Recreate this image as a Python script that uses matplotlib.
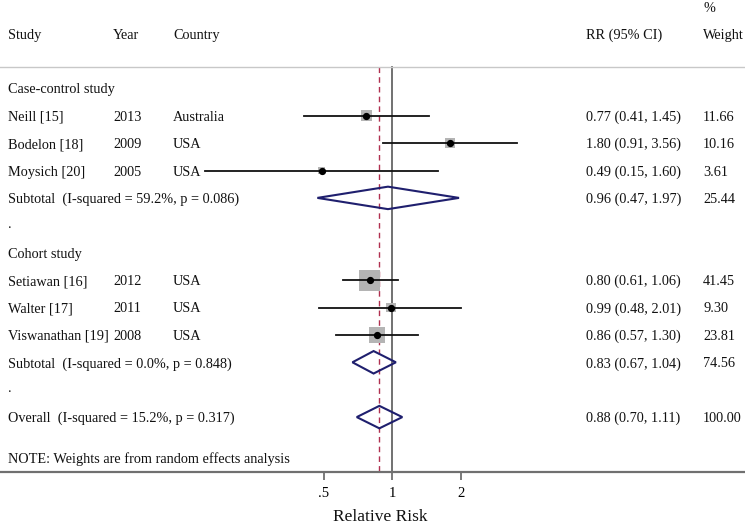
import numpy as np
import matplotlib
matplotlib.use("Agg")
import matplotlib.pyplot as plt
from matplotlib.patches import Polygon
import matplotlib.transforms as mtransforms

# ---------------- data ----------------
groups = ["Case-control study", "Cohort study"]
studies = [["Neill [15]", "Bodelon [18]", "Moysich [20]"],
           ["Setiawan [16]", "Walter [17]", "Viswanathan [19]"]]
years = [["2013", "2009", "2005"], ["2012", "2011", "2008"]]
countries = [["Australia", "USA", "USA"], ["USA", "USA", "USA"]]
rr = [[0.77, 1.80, 0.49], [0.80, 0.99, 0.86]]
lo = [[0.41, 0.91, 0.15], [0.61, 0.48, 0.57]]
hi = [[1.45, 3.56, 1.60], [1.06, 2.01, 1.30]]
weights = [[11.66, 10.16, 3.61], [41.45, 9.30, 23.81]]

sub_rr = [0.96, 0.83]
sub_lo = [0.47, 0.67]
sub_hi = [1.97, 1.04]
sub_w = [25.44, 74.56]
sub_i2 = ["59.2%", "0.0%"]
sub_p = ["0.086", "0.848"]

ov_rr, ov_lo, ov_hi, ov_w = 0.88, 0.70, 1.11, 100.00
ov_i2, ov_p = "15.2%", "0.317"

xticks = [0.5, 1, 2]
xticklabels = [".5", "1", "2"]

# ---------------- layout ----------------
W, H = 745, 532
px_one = 392.0          # pixel of RR = 1
px_per_doubling = 68.5
row0_px = 88.3
row_px = 27.4

fig = plt.figure(figsize=(W / 100, H / 100), dpi=100)
ax = fig.add_axes([0, 0, 1, 1])
ax.set_xscale("log", base=2)
ax.set_xlim(2 ** (-px_one / px_per_doubling), 2 ** ((W - px_one) / px_per_doubling))
ax.set_ylim((H - row0_px) / row_px, -row0_px / row_px)

serif = ["Liberation Serif", "DejaVu Serif"]
fs = 10.3
tr = mtransforms.blended_transform_factory(ax.transAxes, ax.transData)
col_study, col_year, col_country, col_rr, col_w = 8 / W, 113 / W, 173 / W, 586 / W, 703 / W


def txt(x, y, s, **kw):
    ax.text(x, y, s, transform=tr, fontsize=fs, family=serif, va="center_baseline",
            ha="left", color="#111111", **kw)


def fmt(r, l, h):
    return f"{r:.2f} ({l:.2f}, {h:.2f})"


# header
header_y = -2.0
txt(col_study, header_y, "Study")
txt(col_year, header_y, "Year")
txt(col_country, header_y, "Country")
txt(col_rr, header_y, "RR (95% CI)")
txt(col_w, header_y, "Weight")
txt(col_w, -2.95, "%")
header_line = -0.79
axis_row = 14.0
ax.plot([0, 1], [header_line, header_line], transform=tr, color="#c8c8c8", lw=1.0)

box_k = 2.35  # points per sqrt(weight)
navy = "#1f1f6e"

row = 0
for g in range(len(groups)):
    txt(col_study, row, groups[g])
    row += 1
    for i in range(len(studies[g])):
        txt(col_study, row, studies[g][i])
        txt(col_year, row, years[g][i])
        txt(col_country, row, countries[g][i])
        txt(col_rr, row, fmt(rr[g][i], lo[g][i], hi[g][i]))
        txt(col_w, row, f"{weights[g][i]:.2f}")
        ax.scatter([rr[g][i]], [row], marker="s", s=(box_k * np.sqrt(weights[g][i])) ** 2,
                   color="#b4b4b4", edgecolor="none", zorder=2)
        ax.plot([lo[g][i], hi[g][i]], [row, row], color="#111111", lw=1.3, zorder=3)
        ax.plot([rr[g][i]], [row], marker="o", ms=4.2, color="black", zorder=4)
        row += 1
    txt(col_study, row, f"Subtotal  (I-squared = {sub_i2[g]}, p = {sub_p[g]})")
    txt(col_rr, row, fmt(sub_rr[g], sub_lo[g], sub_hi[g]))
    txt(col_w, row, f"{sub_w[g]:.2f}")
    ax.add_patch(Polygon([[sub_lo[g], row], [sub_rr[g], row - 0.41], [sub_hi[g], row],
                          [sub_rr[g], row + 0.41]], closed=True, fill=False,
                         edgecolor=navy, lw=1.5, zorder=3))
    row += 1
    txt(col_study, row - 0.1, ".")
    row += 1

txt(col_study, row, f"Overall  (I-squared = {ov_i2}, p = {ov_p})")
txt(col_rr, row, fmt(ov_rr, ov_lo, ov_hi))
txt(col_w, row, f"{ov_w:.2f}")
ax.add_patch(Polygon([[ov_lo, row], [ov_rr, row - 0.41], [ov_hi, row],
                      [ov_rr, row + 0.41]], closed=True, fill=False,
                     edgecolor=navy, lw=1.5, zorder=3))
txt(col_study, 13.48, "NOTE: Weights are from random effects analysis")

# reference lines
ax.plot([1, 1], [header_line, axis_row], color="#666666", lw=1.3, zorder=1)
ax.plot([ov_rr, ov_rr], [header_line, axis_row], color="#b03050", lw=1.0,
        ls=(0, (4, 3)), zorder=1)

# axis
for s in ["top", "left", "right"]:
    ax.spines[s].set_visible(False)
ax.spines["bottom"].set_position(("data", axis_row))
ax.spines["bottom"].set_color("#707070")
ax.spines["bottom"].set_linewidth(1.6)
ax.set_yticks([])
ax.set_xticks(xticks)
ax.set_xticklabels(xticklabels)
ax.xaxis.set_minor_locator(matplotlib.ticker.NullLocator())
ax.tick_params(axis="x", direction="out", length=6, width=1.3, color="#707070",
               labelsize=10.5, pad=5)
for lab in ax.get_xticklabels():
    lab.set_family(serif)
ax.text(380.5 / W, 0.013, "Relative Risk", transform=ax.transAxes, ha="center",
        va="bottom", fontsize=12.5, family=serif, color="#111111")

fig.savefig("out.png", dpi=100)
